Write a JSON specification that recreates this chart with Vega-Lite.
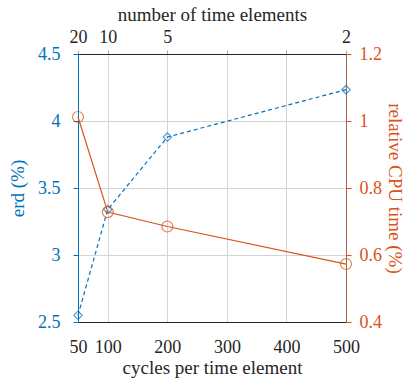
{
  "$schema": "https://vega.github.io/schema/vega-lite/v6.json",
  "autosize": "none",
  "width": 268,
  "height": 268,
  "padding": {"left": 78, "top": 54, "right": 62, "bottom": 59},
  "background": "white",
  "config": {
    "font": "Liberation Serif",
    "view": {"stroke": null},
    "axis": {"labelFont": "Liberation Serif", "titleFont": "Liberation Serif", "labelFontSize": 18, "titleFontSize": 19, "titleFontWeight": "normal", "gridColor": "#d4d4d4", "gridOpacity": 1, "tickSize": 5}
  },
  "data": {"values": [
    {"cycles": 50, "er": 2.55, "cpu": 1.012},
    {"cycles": 100, "er": 3.34, "cpu": 0.728},
    {"cycles": 200, "er": 3.88, "cpu": 0.685},
    {"cycles": 500, "er": 4.234, "cpu": 0.573}
  ]},
  "layer": [
    {
      "layer": [
        {"mark": {"type": "line", "color": "#0072BD", "strokeDash": [4, 3], "strokeWidth": 1.2}},
        {"mark": {"type": "point", "shape": "diamond", "color": "#0072BD", "size": 70, "strokeWidth": 1.2, "filled": false}}
      ],
      "encoding": {
        "x": {"field": "cycles", "type": "quantitative", "scale": {"domain": [50, 500], "nice": false, "zero": false},
          "axis": {"orient": "bottom", "values": [50, 100, 200, 300, 400, 500], "title": "cycles per time element", "grid": true, "ticks": false, "domainColor": "#262626", "labelColor": "#262626", "titleColor": "#262626", "labelPadding": 16, "titlePadding": 2, "labelFlush": false}},
        "y": {"field": "er", "type": "quantitative", "scale": {"domain": [2.5, 4.5], "nice": false, "zero": false},
          "axis": {"orient": "left", "values": [2.5, 3, 3.5, 4, 4.5], "format": "~g", "title": "erd (%)", "grid": true, "domainColor": "#0072BD", "tickColor": "#0072BD", "labelColor": "#0072BD", "titleColor": "#0072BD", "labelPadding": 13, "titlePadding": 10, "labelFlush": false}}
      }
    },
    {
      "layer": [
        {"mark": {"type": "line", "color": "#D95319", "strokeWidth": 1.2}},
        {"mark": {"type": "point", "shape": "circle", "color": "#D95319", "size": 120, "strokeWidth": 1.2, "filled": false}}
      ],
      "encoding": {
        "x": {"field": "cycles", "type": "quantitative", "scale": {"domain": [50, 500], "nice": false, "zero": false},
          "axis": {"orient": "top", "values": [50, 100, 200, 300, 400, 500], "labelExpr": "datum.value == 50 ? '20' : datum.value == 100 ? '10' : datum.value == 200 ? '5' : datum.value == 500 ? '2' : ''", "title": "number of time elements", "grid": false, "tickSize": 4, "domainColor": "#262626", "tickColor": "#aaaaaa", "labelColor": "#262626", "titleColor": "#262626", "labelPadding": 4, "titlePadding": 4, "labelFlush": false}},
        "y": {"field": "cpu", "type": "quantitative", "scale": {"domain": [0.4, 1.2], "nice": false, "zero": false},
          "axis": {"orient": "right", "values": [0.4, 0.6, 0.8, 1, 1.2], "format": "~g", "title": "relative CPU time (%)", "grid": false, "domainColor": "#a8654a", "tickColor": "#D95319", "labelColor": "#D95319", "titleColor": "#D95319", "labelPadding": 8, "titlePadding": 3, "labelFlush": false}}
      }
    }
  ],
  "resolve": {"scale": {"y": "independent"}, "axis": {"x": "independent", "y": "independent"}}
}
